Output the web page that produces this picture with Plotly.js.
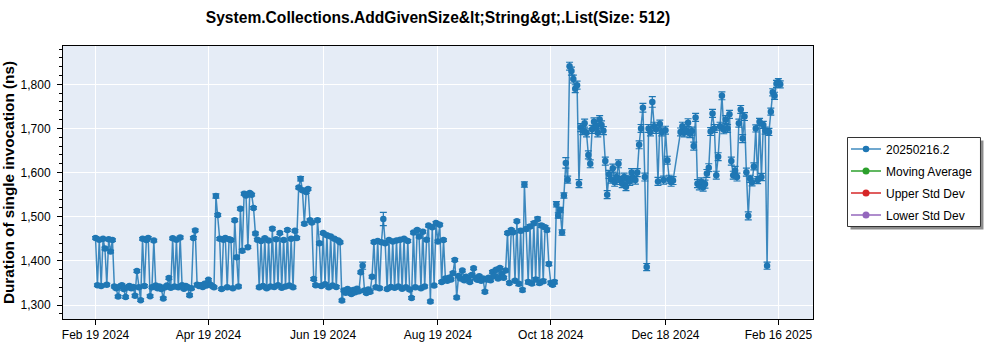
<!DOCTYPE html>
<html>
<head>
<meta charset="utf-8">
<script src="https://cdn.plot.ly/plotly-3.0.1.min.js"></script>
<style>html,body{margin:0;padding:0;background:#fff;}#chart{width:1000px;height:350px;}</style>
</head>
<body>
<div id="chart"></div>
<script>
const seriesName = "20250216.2";
const otherSeries = ["Moving Average", "Upper Std Dev", "Lower Std Dev"];

const dates = [
"2024-02-19","2024-02-20","2024-02-21","2024-02-22","2024-02-23","2024-02-24","2024-02-25","2024-02-26","2024-02-27","2024-02-28","2024-02-29",
"2024-03-01","2024-03-02","2024-03-03","2024-03-04","2024-03-05","2024-03-06","2024-03-07","2024-03-08","2024-03-09","2024-03-10","2024-03-11","2024-03-12","2024-03-13","2024-03-14","2024-03-15","2024-03-16","2024-03-17","2024-03-18","2024-03-19","2024-03-20","2024-03-21","2024-03-22","2024-03-23","2024-03-24","2024-03-25","2024-03-26","2024-03-27","2024-03-28","2024-03-29","2024-03-30","2024-03-31",
"2024-04-01","2024-04-02","2024-04-03","2024-04-04","2024-04-05","2024-04-06","2024-04-07","2024-04-08","2024-04-09","2024-04-10","2024-04-11","2024-04-12","2024-04-13","2024-04-14","2024-04-15","2024-04-16","2024-04-17","2024-04-18","2024-04-19","2024-04-20","2024-04-21","2024-04-22","2024-04-23","2024-04-24","2024-04-25","2024-04-26","2024-04-27","2024-04-28","2024-04-29","2024-04-30",
"2024-05-01","2024-05-02","2024-05-03","2024-05-04","2024-05-05","2024-05-06","2024-05-07","2024-05-08","2024-05-09","2024-05-10","2024-05-11","2024-05-12","2024-05-13","2024-05-14","2024-05-15","2024-05-16","2024-05-17","2024-05-18","2024-05-19","2024-05-20","2024-05-21","2024-05-22","2024-05-23","2024-05-24","2024-05-25","2024-05-26","2024-05-27","2024-05-28","2024-05-29","2024-05-30","2024-05-31",
"2024-06-01","2024-06-02","2024-06-03","2024-06-04","2024-06-05","2024-06-06","2024-06-07","2024-06-08","2024-06-09","2024-06-10","2024-06-11","2024-06-12","2024-06-13","2024-06-14","2024-06-15","2024-06-16","2024-06-17","2024-06-18","2024-06-19","2024-06-20","2024-06-21","2024-06-22","2024-06-23","2024-06-24","2024-06-25","2024-06-26","2024-06-27","2024-06-28","2024-06-29","2024-06-30",
"2024-07-01","2024-07-02","2024-07-03","2024-07-04","2024-07-05","2024-07-06","2024-07-07","2024-07-08","2024-07-09","2024-07-10","2024-07-11","2024-07-12","2024-07-13","2024-07-14","2024-07-15","2024-07-16","2024-07-17","2024-07-18","2024-07-19","2024-07-20","2024-07-21","2024-07-22","2024-07-23","2024-07-24","2024-07-25","2024-07-26","2024-07-27","2024-07-28","2024-07-29","2024-07-30","2024-07-31",
"2024-08-01","2024-08-02","2024-08-03","2024-08-04","2024-08-05","2024-08-06","2024-08-07","2024-08-08","2024-08-09","2024-08-10","2024-08-11","2024-08-12","2024-08-13","2024-08-14","2024-08-15","2024-08-16","2024-08-17","2024-08-18","2024-08-19","2024-08-20","2024-08-21","2024-08-22","2024-08-23","2024-08-24","2024-08-25","2024-08-26","2024-08-27","2024-08-28","2024-08-29","2024-08-30","2024-08-31",
"2024-09-01","2024-09-02","2024-09-03","2024-09-04","2024-09-05","2024-09-06","2024-09-07","2024-09-08","2024-09-09","2024-09-10","2024-09-11","2024-09-12","2024-09-13","2024-09-14","2024-09-15","2024-09-16","2024-09-17","2024-09-18","2024-09-19","2024-09-20","2024-09-21","2024-09-22","2024-09-23","2024-09-24","2024-09-25","2024-09-26","2024-09-27","2024-09-28","2024-09-29","2024-09-30",
"2024-10-01","2024-10-02","2024-10-03","2024-10-04","2024-10-05","2024-10-06","2024-10-07","2024-10-08","2024-10-09","2024-10-10","2024-10-11","2024-10-12","2024-10-13","2024-10-14","2024-10-15","2024-10-16","2024-10-17","2024-10-18","2024-10-19","2024-10-20","2024-10-21","2024-10-22","2024-10-23","2024-10-24","2024-10-25","2024-10-26","2024-10-27","2024-10-28","2024-10-29","2024-10-30","2024-10-31",
"2024-11-01","2024-11-02","2024-11-03","2024-11-04","2024-11-05","2024-11-06","2024-11-07","2024-11-08","2024-11-09","2024-11-10","2024-11-11","2024-11-12","2024-11-13","2024-11-14","2024-11-15","2024-11-16","2024-11-17","2024-11-18","2024-11-19","2024-11-20","2024-11-21","2024-11-22","2024-11-23","2024-11-24","2024-11-25","2024-11-26","2024-11-27","2024-11-28","2024-11-29","2024-11-30",
"2024-12-01","2024-12-02","2024-12-03","2024-12-04","2024-12-05","2024-12-06","2024-12-07","2024-12-08","2024-12-09","2024-12-10","2024-12-11","2024-12-12","2024-12-13","2024-12-14","2024-12-15","2024-12-16","2024-12-17","2024-12-18","2024-12-19","2024-12-20","2024-12-21","2024-12-22","2024-12-26","2024-12-27","2024-12-28","2024-12-29","2024-12-30","2024-12-31",
"2025-01-01","2025-01-02","2025-01-03","2025-01-04","2025-01-05","2025-01-06","2025-01-07","2025-01-08","2025-01-09","2025-01-10","2025-01-11","2025-01-12","2025-01-13","2025-01-14","2025-01-15","2025-01-16","2025-01-17","2025-01-18","2025-01-19","2025-01-20","2025-01-21","2025-01-22","2025-01-23","2025-01-24","2025-01-25","2025-01-26","2025-01-27","2025-01-28","2025-01-29","2025-01-30","2025-01-31",
"2025-02-01","2025-02-02","2025-02-03","2025-02-04","2025-02-05","2025-02-06","2025-02-07","2025-02-08","2025-02-09","2025-02-10","2025-02-11","2025-02-12","2025-02-13","2025-02-14","2025-02-15","2025-02-16","2025-02-17"
];

const durations = [
1452,1345,1448,1343,1450,1428,1346,1449,1421,1447,1342,
1338,1319,1342,1345,1336,1318,1340,1343,1338,1341,1321,1377,1340,1311,1450,1343,1447,1452,1320,1340,1446,1344,1338,1342,1336,1315,1340,1344,1361,1339,1451,
1342,1448,1340,1453,1345,1337,1343,1340,1322,1338,1452,1469,1346,1343,1345,1341,1348,1344,1357,1346,1343,1340,1547,1504,1450,1336,1448,1452,1340,1449,
1447,1338,1492,1408,1342,1518,1423,1552,1548,1431,1554,1550,1520,1462,1448,1340,1445,1343,1451,1338,1446,1342,1473,1341,1449,1345,1463,1339,1447,1342,1470,
1344,1450,1340,1468,1452,1566,1586,1560,1484,1556,1563,1492,1487,1359,1345,1492,1440,1343,1463,1347,1458,1340,1455,1344,1450,1341,1446,1442,1310,1333,
1328,1336,1330,1325,1334,1329,1337,1331,1374,1389,1333,1327,1335,1330,1364,1443,1340,1445,1338,1442,1495,1440,1336,1447,1341,1444,1339,1446,1342,1448,1337,
1450,1340,1445,1335,1316,1464,1340,1470,1455,1338,1466,1342,1448,1480,1308,1476,1344,1486,1444,1482,1352,1447,1360,1355,1362,1358,1372,1402,1317,1366,1360,
1378,1356,1364,1359,1352,1368,1383,1361,1357,1365,1355,1360,1330,1358,1362,1356,1375,1366,1380,1360,1384,1370,1362,1378,1463,1350,1470,1465,1355,1490,
1348,1468,1334,1573,1472,1352,1478,1349,1485,1358,1495,1350,1480,1354,1476,1470,1393,1350,1346,1352,1528,1503,1515,1464,1548,1622,1584,1841,1830,1812,1790,
1798,1575,1702,1695,1712,1690,1640,1620,1698,1715,1705,1690,1720,1708,1695,1626,1550,1596,1585,1610,1578,1590,1620,1582,1575,1590,1568,1585,1580,1600,
1588,1583,1600,1663,1700,1747,1590,1386,1700,1692,1760,1705,1698,1580,1710,1692,1583,1696,1628,1585,1578,1582,1692,1705,1690,1696,1713,1688,
1694,1660,1725,1575,1570,1579,1567,1574,1598,1611,1693,1734,1700,1594,1636,1705,1774,1697,1720,1700,1732,1626,1594,1605,1590,1712,1743,1677,1727,1601,1502,
1586,1578,1614,1700,1583,1715,1590,1708,1695,1389,1692,1738,1782,1774,1801,1805,1800
];

const errors = [
3,3,3,3,3,3,3,3,3,3,3,
3,3,3,3,3,3,3,3,3,3,3,3,3,3,3,3,3,3,3,3,3,3,3,3,3,3,3,3,3,3,3,
3,3,3,3,3,3,3,3,3,3,3,3,3,3,3,3,3,3,3,3,3,3,5,3,3,3,3,3,3,3,
3,3,3,3,3,3,3,3,3,3,3,3,3,3,3,3,3,3,3,3,3,3,3,3,3,3,3,3,3,3,3,
3,3,3,3,3,3,5,3,3,3,3,3,3,3,3,3,3,3,3,3,3,3,3,3,3,3,3,3,3,3,
3,3,3,3,3,3,3,3,3,8,3,3,3,3,3,3,3,3,3,3,15,3,3,3,3,3,3,3,3,3,3,
3,3,3,3,3,3,3,3,3,3,3,3,3,3,3,3,3,3,3,3,3,3,3,3,3,3,3,3,3,3,3,
3,3,3,3,3,3,3,3,3,3,3,3,3,3,3,3,3,3,3,3,3,3,3,3,3,3,3,3,3,3,
4,4,4,6,4,4,4,4,4,4,4,4,4,4,4,4,4,4,4,4,6,6,6,6,6,12,8,9,9,9,9,
9,9,9,9,9,9,9,9,9,9,9,9,9,9,9,9,9,9,9,9,9,9,9,9,9,9,9,9,9,9,
9,9,9,9,9,10,9,8,9,9,12,9,9,9,9,9,9,9,9,9,9,9,9,9,9,9,9,9,
9,9,9,9,9,9,9,9,9,9,9,9,9,9,9,9,9,9,9,9,9,9,9,9,9,9,9,9,9,9,9,
8,8,8,8,8,8,8,8,8,8,8,8,8,8,8,8,8
];

const tickDates = ["2024-02-19","2024-04-19","2024-06-19","2024-08-19","2024-10-18","2024-12-18","2025-02-16"];
const tickLabels = ["Feb 19 2024","Apr 19 2024","Jun 19 2024","Aug 19 2024","Oct 18 2024","Dec 18 2024","Feb 16 2025"];

const FONT = "Liberation Sans, Arial, sans-serif";
const otherColors = ["#2ca02c", "#d62728", "#9467bd"];

const traces = [{
  type: "scatter", mode: "lines+markers", name: seriesName,
  x: dates, y: durations, legendgroup: "g0",
  line: {color: "rgba(31,119,180,0.85)", width: 1.5},
  marker: {color: "#1f77b4", size: 6.5},
  error_y: {type: "data", array: errors, visible: true, color: "#1f77b4", thickness: 1.2, width: 3.5}
}];
otherSeries.forEach(function (n, i) {
  traces.push({
    type: "scatter", mode: "lines+markers", name: n, legendgroup: "g" + (i + 1),
    x: [dates[0]], y: [null],
    line: {color: otherColors[i], width: 1.5},
    marker: {color: otherColors[i], size: 7}
  });
});

const layout = {
  width: 1000, height: 350,
  margin: {l: 63, r: 187, t: 46, b: 31},
  paper_bgcolor: "#ffffff",
  plot_bgcolor: "#e5ecf6",
  font: {family: FONT, size: 12, color: "#000"},
  title: {
    text: "System.Collections.AddGivenSize&amp;lt;String&amp;gt;.List(Size: 512)",
    font: {family: FONT, size: 15.6, color: "#000", weight: "bold"},
    x: 0.5, xref: "paper", y: 0.949, yref: "container", yanchor: "middle"
  },
  xaxis: {
    type: "date",
    range: ["2024-02-01 17:00", "2025-03-06 10:00"],
    tickvals: tickDates, ticktext: tickLabels,
    showgrid: true, gridcolor: "#ffffff", gridwidth: 1,
    showline: true, linecolor: "#000", linewidth: 1, mirror: true,
    ticks: "outside", ticklen: 5, tickcolor: "#000",
    tickfont: {family: FONT, size: 12, color: "#000"},
    zeroline: false
  },
  yaxis: {
    range: [1268.3, 1886.8],
    dtick: 100, tick0: 0, tickformat: ",d",
    showgrid: true, gridcolor: "#ffffff", gridwidth: 1,
    showline: true, linecolor: "#000", linewidth: 1, mirror: true,
    ticks: "outside", ticklen: 5, tickcolor: "#000",
    ticklabelstandoff: 4,
    minor: {dtick: 20, ticklen: 3, tickcolor: "#000", showgrid: false, ticks: "outside"},
    tickfont: {family: FONT, size: 12, color: "#000"},
    title: {text: "Duration of single invocation (ns)", font: {family: FONT, size: 15.3, color: "#000", weight: "bold"}, standoff: 2},
    zeroline: false
  },
  showlegend: true,
  legend: {
    x: 1.044, xanchor: "left", y: 0.676, yanchor: "top",
    bgcolor: "rgba(0,0,0,0)", borderwidth: 0,
    font: {family: FONT, size: 12, color: "#000"},
    traceorder: "grouped", tracegroupgap: 3
  },
  shapes: [
    {type: "rect", xref: "paper", yref: "paper", x0: 1.05, x1: 1.2273, y0: 0.3278, y1: 0.6538, line: {width: 0}, fillcolor: "rgba(0,0,0,0.45)", layer: "above"},
    {type: "rect", xref: "paper", yref: "paper", x0: 1.046, x1: 1.2233, y0: 0.3388, y1: 0.6648, line: {width: 1, color: "#333"}, fillcolor: "#ffffff", layer: "above"}
  ]
};

Plotly.newPlot("chart", traces, layout, {displayModeBar: false, staticPlot: true});
</script>
</body>
</html>
